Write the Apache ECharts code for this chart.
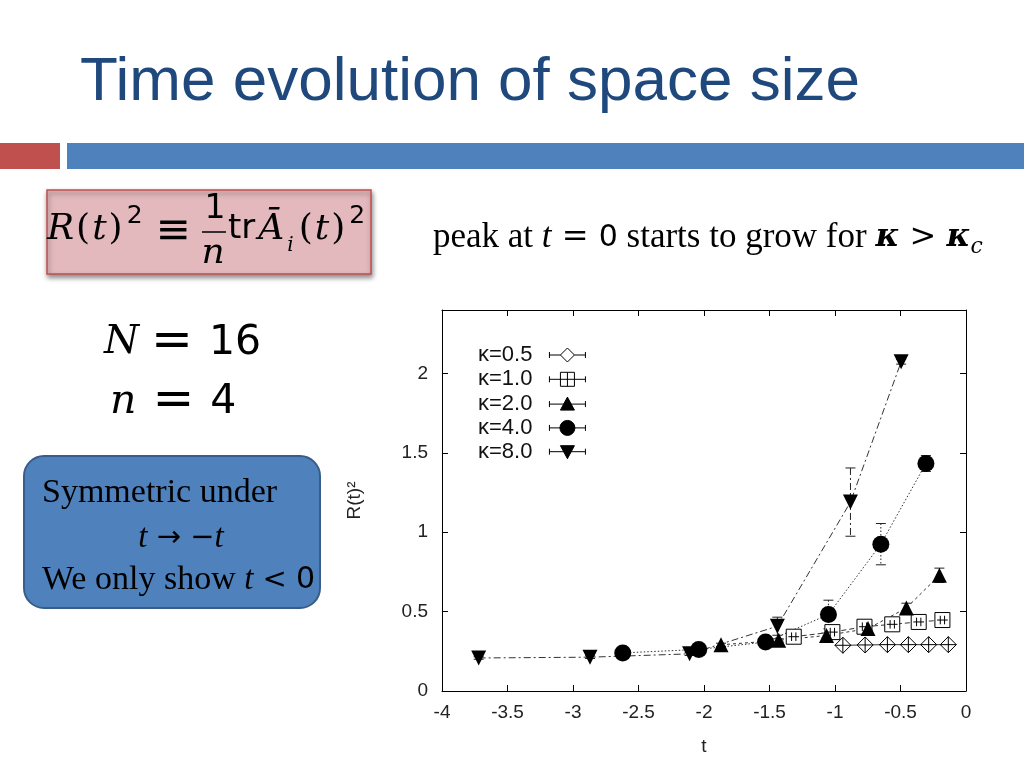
<!DOCTYPE html>
<html><head><meta charset="utf-8">
<script src="https://cdn.jsdelivr.net/npm/echarts@6/dist/echarts.min.js"></script>
<style>html,body{margin:0;padding:0;background:#fff}#c{width:1024px;height:768px}</style>
</head><body><div id="c"></div>
<script>
// ---- data ----
const legendLabels = ['κ=0.5', 'κ=1.0', 'κ=2.0', 'κ=4.0', 'κ=8.0'];
const xTickValues = [-4, -3.5, -3, -2.5, -2, -1.5, -1, -0.5, 0];
const yTickValues = [0, 0.5, 1, 1.5, 2];

const tK05 = [-0.94, -0.77, -0.60, -0.44, -0.285, -0.135];
const rK05 = [0.288, 0.290, 0.292, 0.292, 0.292, 0.292];
const eK05 = [0.010, 0.010, 0.010, 0.010, 0.010, 0.010];

const tK1 = [-1.315, -1.02, -0.775, -0.563, -0.361, -0.18];
const rK1 = [0.342, 0.371, 0.405, 0.420, 0.435, 0.447];
const eK1 = [0.015, 0.015, 0.015, 0.015, 0.015, 0.015];

const tK2 = [-1.87, -1.43, -1.065, -0.748, -0.455, -0.203];
const rK2 = [0.291, 0.319, 0.350, 0.393, 0.523, 0.729];
const eK2 = [0.010, 0.010, 0.015, 0.020, 0.030, 0.045];

const tK4 = [-2.62, -2.04, -1.53, -1.05, -0.65, -0.306];
const rK4 = [0.240, 0.262, 0.308, 0.482, 0.925, 1.433];
const eK4 = [0.008, 0.008, 0.010, 0.090, 0.130, 0.050];

const tK8 = [-3.72, -2.87, -2.11, -1.44, -0.882, -0.495];
const rK8 = [0.208, 0.213, 0.234, 0.408, 1.190, 2.074];
const eK8 = [0.008, 0.008, 0.010, 0.057, 0.215, 0.015];

// ---- styles ----
const seriesDefs = [
  {t: tK05, r: rK05, e: eK05, dash: 'solid',
   symbol: 'path://M0,-8 L8,0 L0,8 L-8,0 Z M-8,0 L8,0 M0,-8 L0,8', size: 16, rot: 0, fill: '#fff',
   icon: 'path://M0,5 L0,11 M0,8 L11,8 M25,8 L36,8 M36,5 L36,11 M18,1 L25,8 L18,15 L11,8 Z'},
  {t: tK1, r: rK1, e: eK1, dash: [5, 3],
   symbol: 'path://M-7,-7 L7,-7 L7,7 L-7,7 Z M-5,0 L5,0 M-2,-4 L-2,4 M2,-4 L2,4', size: 15, rot: 0, fill: '#fff',
   icon: 'path://M0,5 L0,11 M0,8 L11,8 M25,8 L36,8 M36,5 L36,11 M11,1 L25,1 L25,15 L11,15 Z M11,8 L25,8 M18,1 L18,15'},
  {t: tK2, r: rK2, e: eK2, dash: [3, 3],
   symbol: 'triangle', size: 15, rot: 0, fill: '#000',
   icon: 'path://M0,5 L0,11 M0,8 L36,8 M36,5 L36,11 M18,1 L25,14 L11,14 Z'},
  {t: tK4, r: rK4, e: eK4, dash: [1.5, 2],
   symbol: 'circle', size: 17, rot: 0, fill: '#000',
   icon: 'path://M0,5 L0,11 M0,8 L36,8 M36,5 L36,11 M25.5,8 A7.5,7.5 0 1 1 10.5,8 A7.5,7.5 0 1 1 25.5,8 Z'},
  {t: tK8, r: rK8, e: eK8, dash: [7, 3, 2, 3],
   symbol: 'triangle', size: 15, rot: 180, fill: '#000',
   icon: 'path://M0,5 L0,11 M0,8 L36,8 M36,5 L36,11 M11,2 L25,2 L18,15 Z'}
];

function errRenderer(dash) {
  return function (params, api) {
    const x = api.value(0), y = api.value(1), e = api.value(2);
    const top = api.coord([x, y + e]);
    const bot = api.coord([x, y - e]);
    const w = 5;
    const st = {stroke: '#222', lineWidth: 1};
    return {type: 'group', children: [
      {type: 'line', shape: {x1: top[0], y1: top[1], x2: bot[0], y2: bot[1]}, style: Object.assign({lineDash: dash === 'solid' ? null : dash}, st)},
      {type: 'line', shape: {x1: top[0] - w, y1: top[1], x2: top[0] + w, y2: top[1]}, style: st},
      {type: 'line', shape: {x1: bot[0] - w, y1: bot[1], x2: bot[0] + w, y2: bot[1]}, style: st}
    ]};
  };
}

const series = [];
seriesDefs.forEach(function (d, i) {
  series.push({
    type: 'custom', name: 'err' + i, xAxisIndex: 0, yAxisIndex: 0, z: 2,
    renderItem: errRenderer(d.dash), encode: {x: 0, y: 1},
    data: d.t.map(function (v, k) { return [v, d.r[k], d.e[k]]; }),
    silent: true
  });
});
seriesDefs.forEach(function (d, i) {
  series.push({
    type: 'line', name: legendLabels[i], xAxisIndex: 0, yAxisIndex: 0, z: 3,
    data: d.t.map(function (v, k) { return [v, d.r[k]]; }),
    symbol: d.symbol, symbolSize: d.size, symbolRotate: d.rot,
    itemStyle: {color: d.fill, borderColor: '#000', borderWidth: d.fill === '#fff' ? 1 : 0},
    lineStyle: {color: '#333', width: 1, type: d.dash},
    emphasis: {disabled: true}, silent: true
  });
});

const axisFont = {fontFamily: 'Liberation Sans', fontSize: 19, color: '#222'};

const mathRich = {
  it: {fontFamily: 'DejaVu Serif', fontStyle: 'italic', fontSize: 36, lineHeight: 52, fill: '#000'},
  itA: {fontFamily: 'DejaVu Serif', fontStyle: 'italic', fontSize: 36, lineHeight: 52, fill: '#000', padding: [0, 3, 0, 3]},
  rm: {fontFamily: 'DejaVu Serif', fontSize: 36, lineHeight: 52, fill: '#000', padding: [0, 2, 0, 2]},
  sf: {fontFamily: 'DejaVu Sans', fontSize: 34, lineHeight: 52, fill: '#000'},
  sup: {fontFamily: 'DejaVu Sans', fontSize: 25, lineHeight: 15, verticalAlign: 'top', fill: '#000', padding: [0, 0, 0, 2]},
  sub: {fontFamily: 'DejaVu Serif', fontStyle: 'italic', fontSize: 20, lineHeight: 37, verticalAlign: 'bottom', fill: '#000', padding: [0, 3, 0, 0]}
};
const peakRich = {
  rm: {fontFamily: 'Liberation Serif', fontSize: 35, lineHeight: 40, fill: '#000'},
  it: {fontFamily: 'Liberation Serif', fontStyle: 'italic', fontSize: 35, lineHeight: 40, fill: '#000'},
  sf: {fontFamily: 'DejaVu Sans', fontSize: 30, lineHeight: 40, fill: '#000'},
  k: {fontFamily: 'DejaVu Serif', fontStyle: 'italic', fontWeight: 'bold', fontSize: 32, lineHeight: 40, fill: '#000'},
  op: {fontFamily: 'DejaVu Serif', fontSize: 32, lineHeight: 40, fill: '#000'},
  sub: {fontFamily: 'DejaVu Serif', fontStyle: 'italic', fontSize: 22, lineHeight: 24, verticalAlign: 'bottom', fill: '#000'}
};
const nRich = {
  it: {fontFamily: 'DejaVu Serif', fontStyle: 'italic', fontSize: 40, lineHeight: 50, fill: '#000'},
  itn: {fontFamily: 'DejaVu Serif', fontStyle: 'italic', fontSize: 41, lineHeight: 50, fill: '#000', padding: [0, 4, 0, 0]},
  eq: {fontFamily: 'DejaVu Sans', fontSize: 50, lineHeight: 50, fill: '#000', padding: [0, 16, 0, 12]},
  sf: {fontFamily: 'DejaVu Sans', fontSize: 41, lineHeight: 50, fill: '#000'}
};
const boxRich = {
  rm: {fontFamily: 'Liberation Serif', fontSize: 34, lineHeight: 40, fill: '#000'},
  it: {fontFamily: 'Liberation Serif', fontStyle: 'italic', fontSize: 33, lineHeight: 40, fill: '#000'},
  sf: {fontFamily: 'DejaVu Sans', fontSize: 30, lineHeight: 40, fill: '#000'},
  op: {fontFamily: 'DejaVu Sans', fontSize: 29, lineHeight: 40, fill: '#000'}
};

const graphic = [
  {type: 'text', x: 80, y: 83, style: {text: 'Time evolution of space size', fontFamily: 'Liberation Sans', fontSize: 62, fill: '#1f497d', verticalAlign: 'middle'}},
  {type: 'rect', shape: {x: 0, y: 143, width: 60, height: 26}, style: {fill: '#c0504d'}},
  {type: 'rect', shape: {x: 67, y: 143, width: 957, height: 26}, style: {fill: '#4f81bd'}},
  {type: 'rect', shape: {x: 47, y: 190, width: 324, height: 84}, style: {fill: '#e4b9bd', stroke: '#c0504d', lineWidth: 1.5, shadowBlur: 5, shadowOffsetX: 1, shadowOffsetY: 3, shadowColor: 'rgba(0,0,0,0.45)'}},
  {type: 'text', x: 47, y: 229.5, style: {text: '{it|R}{rm|(}{it|t}{rm|)}{sup|2}', rich: mathRich, verticalAlign: 'middle'}},
  {type: 'text', x: 173, y: 232, style: {text: '≡', fontFamily: 'DejaVu Sans', fontSize: 42, fill: '#000', align: 'center', verticalAlign: 'middle'}},
  {type: 'text', x: 215, y: 209, style: {text: '1', fontFamily: 'DejaVu Sans', fontSize: 33, fill: '#000', align: 'center', verticalAlign: 'middle'}},
  {type: 'line', shape: {x1: 202, y1: 232, x2: 226, y2: 232}, style: {stroke: '#000', lineWidth: 1.5}},
  {type: 'text', x: 213, y: 254, style: {text: 'n', fontFamily: 'DejaVu Serif', fontStyle: 'italic', fontSize: 36, fill: '#000', align: 'center', verticalAlign: 'middle'}},
  {type: 'text', x: 228, y: 229.5, style: {text: '{sf|tr}{itA|Ā}{sub|i}{rm|(}{it|t}{rm|)}{sup|2}', rich: mathRich, verticalAlign: 'middle'}},
  {type: 'text', x: 433, y: 238, style: {text: '{rm|peak at }{it|t}{op| = }{sf|0}{rm| starts to grow for }{k|κ}{op| > }{k|κ}{sub|c}', rich: peakRich, verticalAlign: 'middle'}},
  {type: 'text', x: 104, y: 343, style: {text: '{it|N}{eq|=}{sf|16}', rich: nRich, verticalAlign: 'middle'}},
  {type: 'text', x: 110, y: 402, style: {text: '{itn|n}{eq|=}{sf|4}', rich: nRich, verticalAlign: 'middle'}},
  {type: 'rect', shape: {x: 24, y: 456, width: 296, height: 152, r: 20}, style: {fill: '#4f81bd', stroke: '#385d8a', lineWidth: 2}},
  {type: 'text', x: 42, y: 493, style: {text: '{rm|Symmetric under}', rich: boxRich, verticalAlign: 'middle'}},
  {type: 'text', x: 181, y: 538, style: {text: '{it|t}{op| → −}{it|t}', rich: boxRich, align: 'center', verticalAlign: 'middle'}},
  {type: 'text', x: 42, y: 580, style: {text: '{rm|We only show }{it|t}{op| < }{sf|0}', rich: boxRich, verticalAlign: 'middle'}}
];

const option = {
  animation: false,
  backgroundColor: '#fff',
  graphic: graphic,
  grid: {left: 442, right: 58, top: 310, bottom: 77, containLabel: false},
  legend: {
    orient: 'vertical', left: 478, top: 344, align: 'right', padding: 0,
    itemWidth: 36, itemHeight: 16, itemGap: 2.3, selectedMode: false,
    textStyle: {fontFamily: 'Liberation Sans', fontSize: 22, color: '#111', lineHeight: 16, padding: [0, 12, 0, 0]},
    data: legendLabels.map(function (n, i) {
      return {name: n, icon: seriesDefs[i].icon,
        itemStyle: {color: seriesDefs[i].fill, borderColor: '#000', borderWidth: 1}};
    })
  },
  xAxis: [
    {type: 'value', min: -4, max: 0, interval: 0.5, position: 'bottom',
     name: 't', nameLocation: 'middle', nameGap: 46, nameTextStyle: axisFont,
     axisLine: {onZero: false, lineStyle: {color: '#000', width: 1}},
     axisTick: {inside: true, length: 6, lineStyle: {color: '#000'}, customValues: xTickValues},
     axisLabel: Object.assign({margin: 12, customValues: xTickValues}, axisFont),
     splitLine: {show: false}},
    {type: 'value', min: -4, max: 0, interval: 0.5, position: 'top',
     axisLine: {onZero: false, lineStyle: {color: '#000', width: 1}},
     axisTick: {inside: true, length: 6, lineStyle: {color: '#000'}, customValues: xTickValues},
     axisLabel: {show: false}, splitLine: {show: false}}
  ],
  yAxis: [
    {type: 'value', min: 0, max: 2.4, interval: 0.5, position: 'left',
     name: 'R(t)²', nameLocation: 'middle', nameGap: 78, nameRotate: 90, nameTextStyle: axisFont,
     axisLine: {show: true, onZero: false, lineStyle: {color: '#000', width: 1}},
     axisTick: {show: true, inside: true, length: 6, lineStyle: {color: '#000'}, customValues: yTickValues},
     axisLabel: Object.assign({margin: 14, customValues: yTickValues}, axisFont),
     splitLine: {show: false}},
    {type: 'value', min: 0, max: 2.4, interval: 0.5, position: 'right',
     axisLine: {show: true, onZero: false, lineStyle: {color: '#000', width: 1}},
     axisTick: {show: true, inside: true, length: 6, lineStyle: {color: '#000'}, customValues: yTickValues},
     axisLabel: {show: false}, splitLine: {show: false}}
  ],
  series: series
};

const chart = echarts.init(document.getElementById('c'));
chart.setOption(option);
</script>
</body></html>
